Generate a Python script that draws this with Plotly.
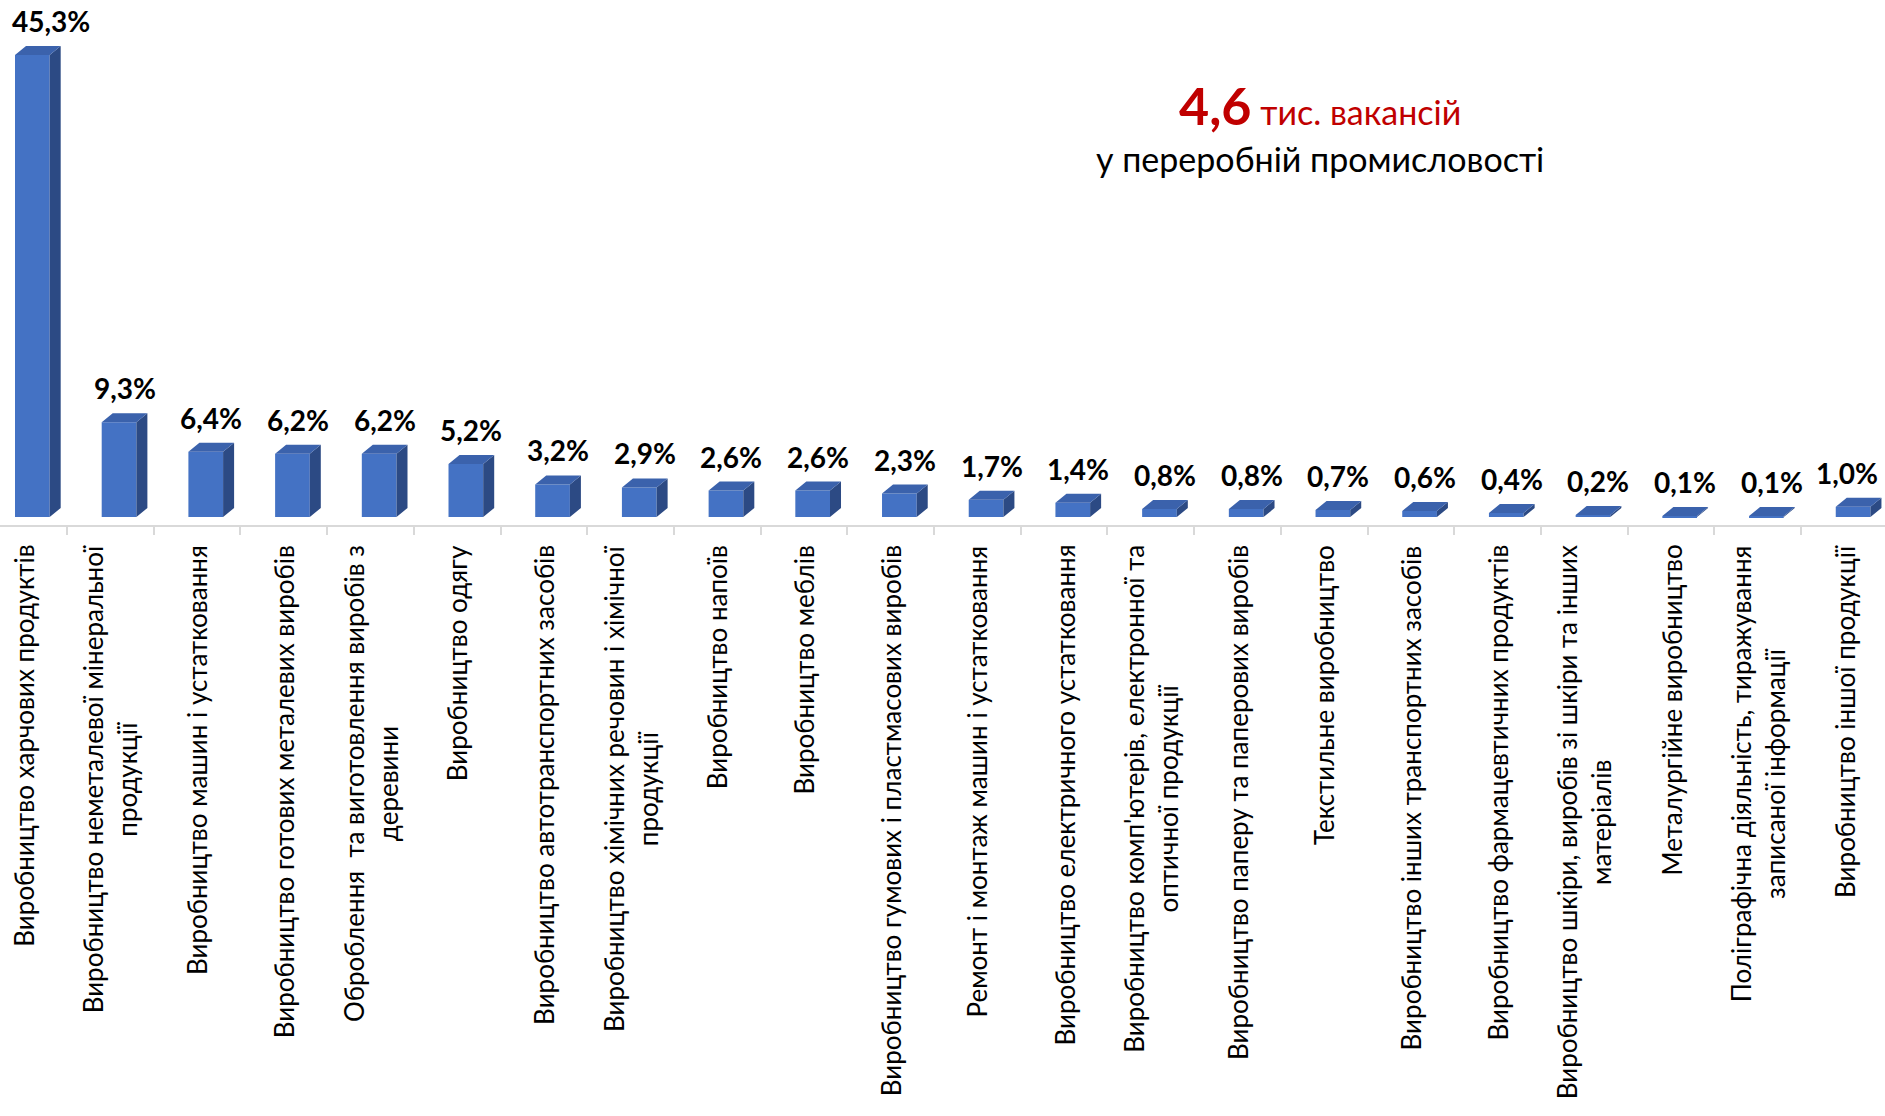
import plotly.graph_objects as go

categories = [
    "Виробництво харчових продуктів",
    "Виробництво неметалевої мінеральної<br>продукції",
    "Виробництво машин і устатковання",
    "Виробництво готових металевих виробів",
    "Оброблення  та виготовлення виробів з<br>деревини",
    "Виробництво одягу",
    "Виробництво автотранспортних засобів",
    "Виробництво хімічних речовин і хімічної<br>продукції",
    "Виробництво напоїв",
    "Виробництво меблів",
    "Виробництво гумових і пластмасових виробів",
    "Ремонт і монтаж машин і устатковання",
    "Виробництво електричного устатковання",
    "Виробництво комп'ютерів, електронної та<br>оптичної продукції",
    "Виробництво паперу та паперових виробів",
    "Текстильне виробництво",
    "Виробництво інших транспортних засобів",
    "Виробництво фармацевтичних продуктів",
    "Виробництво шкіри, виробів зі шкіри та інших<br>матеріалів",
    "Металургійне виробництво",
    "Поліграфічна діяльність, тиражування<br>записаної інформації",
    "Виробництво іншої продукції",
]
values = [45.3, 9.3, 6.4, 6.2, 6.2, 5.2, 3.2, 2.9, 2.6, 2.6, 2.3, 1.7,
          1.4, 0.8, 0.8, 0.7, 0.6, 0.4, 0.2, 0.1, 0.1, 1.0]
title_number = "4,6"
title_unit = "тис. вакансій"
title_line2 = "у переробній промисловості"

FONT = "Lato"
FRONT = "#4472C4"
TOP = "#3B62AC"
SIDE = "#2C4A84"

n = len(categories)
idx = list(range(n))
off = 0.10      # front face shift from category centre
w = 0.40        # bar width (category units)
dx = 0.127      # depth offset in x units
dy = 0.88       # depth offset in y units

xs = [i + off for i in idx]

fig = go.Figure()
fig.add_trace(go.Bar(x=xs, y=values, width=w, marker=dict(color=FRONT, line=dict(width=0)),
                     hoverinfo="skip"))

side_x, side_y, top_x, top_y = [], [], [], []
for xc, v in zip(xs, values):
    xl, xr = xc - w / 2, xc + w / 2
    side_x += [xr, xr + dx, xr + dx, xr, xr, None]
    side_y += [0, dy, v + dy, v, 0, None]
    top_x += [xl, xl + dx, xr + dx, xr, xl, None]
    top_y += [v, v + dy, v + dy, v, v, None]

fig.add_trace(go.Scatter(x=side_x, y=side_y, mode="lines", fill="toself", fillcolor=SIDE,
                         line=dict(width=0, color=SIDE), hoverinfo="skip"))
fig.add_trace(go.Scatter(x=top_x, y=top_y, mode="lines", fill="toself", fillcolor=TOP,
                         line=dict(width=0, color=TOP), hoverinfo="skip"))

annotations = []
for i, (xc, v) in enumerate(zip(xs, values)):
    label = f"{v:.1f}".replace(".", ",") + "%"
    shift = 0
    if i == 0:
        shift = 13
    if i == n - 1:
        shift = -12
    annotations.append(dict(x=xc + dx / 2, y=v + dy, xref="x", yref="y", text=f"<b>{label}</b>",
                            showarrow=False, yanchor="bottom", xanchor="center", yshift=6,
                            xshift=shift, font=dict(family=FONT, size=28, color="#000000")))

for i, c in enumerate(categories):
    annotations.append(dict(x=i, y=0, xref="x", yref="paper", text=c, showarrow=False,
                            textangle=-90, xanchor="center", yanchor="top", align="center",
                            yshift=-18, font=dict(family=FONT, size=26, color="#000000")))

annotations.append(dict(
    x=0.700, y=0.800, xref="paper", yref="paper", showarrow=False,
    xanchor="center", yanchor="middle",
    text=(f"<b><span style='font-size:52px'>{title_number}</span></b>"
          f"<span style='font-size:34px'> {title_unit}</span>"),
    font=dict(family=FONT, size=34, color="#C00000")))
annotations.append(dict(
    x=0.700, y=0.699, xref="paper", yref="paper", showarrow=False,
    xanchor="center", yanchor="middle", text=title_line2,
    font=dict(family=FONT, size=34, color="#000000")))

fig.update_layout(
    width=1885, height=1116,
    margin=dict(l=0, r=0, t=0, b=591, pad=0),
    paper_bgcolor="white", plot_bgcolor="white",
    showlegend=False, hovermode=False,
    annotations=annotations,
    xaxis=dict(range=[-0.273, 21.468], showgrid=False, zeroline=False,
               tickmode="array", tickvals=[i + 0.5 for i in idx], showticklabels=False,
               ticks="outside", ticklen=8, tickwidth=2, tickcolor="#D9D9D9",
               showline=True, linecolor="#D9D9D9", linewidth=2, fixedrange=True),
    yaxis=dict(range=[-0.78, 50.69], visible=False, fixedrange=True),
)

fig.write_html("out.html", config={"displayModeBar": False},
               post_script="document.body.style.margin='0px';")
